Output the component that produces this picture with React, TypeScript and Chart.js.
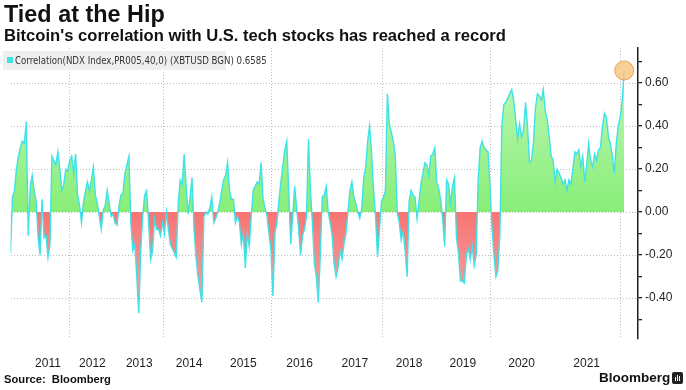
import React, { useEffect, useRef } from 'react';
import { Chart, registerables } from 'chart.js';

Chart.register(...registerables);

// Rolling 40-day correlation, NDX vs XBTUSD (evenly spaced samples)
const correlation: number[] = [
  -0.19, 0.07, 0.10, 0.20, 0.26, 0.30, 0.33, 0.32, 0.42, -0.11,
  0.12, 0.17, 0.10, 0.05, -0.12, -0.20, 0.06, -0.12, -0.11, -0.21,
  -0.15, 0.26, 0.24, 0.22, 0.28, 0.20, 0.10, 0.13, 0.20, 0.19,
  0.24, 0.26, 0.18, 0.27, 0.08, 0.03, -0.05, 0.05, 0.10, 0.14,
  0.10, 0.15, 0.21, 0.08, 0.04, -0.02, -0.08, 0.01, 0.03, 0.10,
  0.04, -0.02, -0.01, -0.05, -0.06, 0.03, 0.08, 0.09, 0.18, 0.22,
  0.26, -0.05, -0.18, -0.15, -0.30, -0.47, -0.18, -0.02, 0.08, 0.10,
  -0.05, -0.22, -0.18, -0.03, -0.08, -0.08, -0.11, -0.05, -0.10, 0.00,
  -0.08, -0.15, -0.17, -0.19, -0.21, 0.04, 0.15, 0.13, 0.27, 0.12,
  -0.01, 0.07, 0.16, -0.08, -0.21, -0.30, -0.36, -0.42, -0.02, 0.00,
  -0.01, 0.02, 0.07, -0.05, -0.03, 0.00, 0.04, 0.10, 0.15, 0.17,
  0.23, 0.10, 0.06, 0.06, -0.05, -0.02, -0.05, -0.15, -0.10, -0.26,
  -0.10, -0.16, -0.02, 0.10, 0.12, 0.14, 0.13, 0.23, 0.06, 0.02,
  -0.02, -0.10, -0.18, -0.39, -0.10, -0.05, 0.05, 0.14, 0.21, 0.29,
  0.33, 0.10, -0.15, -0.02, 0.12, 0.02, -0.08, -0.20, -0.11, -0.08,
  -0.02, 0.34, 0.10, -0.05, -0.24, -0.30, -0.42, -0.20, 0.07, 0.08,
  0.12, 0.00, -0.05, -0.11, -0.24, -0.30, -0.26, -0.18, -0.22, -0.15,
  -0.10, 0.00, 0.10, 0.14, 0.07, 0.04, 0.00, -0.03, 0.02, 0.16,
  0.21, 0.33, 0.40, 0.27, 0.10, -0.02, -0.21, -0.08, 0.05, 0.07,
  0.10, 0.55, 0.41, 0.37, 0.33, 0.26, 0.00, -0.05, -0.13, -0.09,
  -0.18, -0.30, 0.05, 0.10, 0.08, 0.07, -0.03, 0.05, 0.13, 0.18,
  0.23, 0.22, 0.17, 0.26, 0.27, 0.30, 0.14, 0.11, 0.06, -0.03,
  -0.16, 0.15, 0.13, 0.04, 0.12, 0.16, -0.12, -0.19, -0.32, -0.32,
  -0.33, -0.20, -0.17, -0.22, -0.16, -0.25, -0.20, 0.15, 0.30, 0.33,
  0.30, 0.29, 0.28, 0.12, -0.07, -0.20, -0.30, -0.27, -0.11, 0.40,
  0.50, 0.51, 0.53, 0.55, 0.57, 0.52, 0.43, 0.34, 0.41, 0.35,
  0.38, 0.51, 0.40, 0.23, 0.24, 0.32, 0.48, 0.55, 0.54, 0.52,
  0.57, 0.47, 0.43, 0.35, 0.26, 0.24, 0.14, 0.20, 0.18, 0.16,
  0.13, 0.15, 0.10, 0.15, 0.13, 0.20, 0.28, 0.27, 0.29, 0.21,
  0.26, 0.14, 0.22, 0.32, 0.24, 0.21, 0.27, 0.24, 0.29, 0.30,
  0.40, 0.46, 0.44, 0.35, 0.32, 0.26, 0.18, 0.32, 0.40, 0.44,
  0.52, 0.6585,
];

// x axis: years and the sample index at which each year begins
const yearLabels: string[] = ['2011', '2012', '2013', '2014', '2015', '2016', '2017', '2018', '2019', '2020', '2021'];
const yearStartIndex: number[] = [8, 30, 53, 77.5, 103.5, 132.5, 160.5, 188.5, 215.5, 243, 275, 309];
const gridYearIndex: number[] = [30, 77.5, 132.5, 188.5, 243, 309];
const xAxisMax = 318;

// y axis
const yMin = -0.59;
const yMax = 0.763;
const yTickValues: number[] = [-0.5, -0.4, -0.3, -0.2, -0.1, 0, 0.1, 0.2, 0.3, 0.4, 0.5, 0.6, 0.7];
const yGridValues: number[] = [-0.4, -0.2, 0, 0.2, 0.4, 0.6];

const legendText = 'Correlation(NDX Index,PR005,40,0) (XBTUSD BGN) 0.6585';
const titleText = 'Tied at the Hip';
const subtitleText = "Bitcoin's correlation with U.S. tech stocks has reached a record";
const sourceText = 'Source:  Bloomberg';

const isMajor = (v: number) => Math.abs(Math.round(v * 5) - v * 5) < 1e-6;

export default function App() {
  const canvasRef = useRef<HTMLCanvasElement | null>(null);

  useEffect(() => {
    const canvas = canvasRef.current;
    if (!canvas) return;
    const points = correlation.map((v, i) => ({ x: i, y: v }));
    const last = correlation.length - 1;
    const font = { family: "'Liberation Sans', Arial, sans-serif", size: 12 };

    const chart = new Chart(canvas, {
      type: 'line',
      data: {
        datasets: [
          {
            data: points,
            xAxisID: 'x',
            yAxisID: 'y',
            borderColor: '#3fe2e6',
            borderWidth: 1.4,
            tension: 0,
            pointRadius: (ctx: any) => (ctx.dataIndex === last ? 9.5 : 0),
            pointHoverRadius: 0,
            pointBackgroundColor: 'rgba(248, 198, 125, 0.8)',
            pointBorderColor: 'rgba(232, 150, 60, 0.85)',
            pointBorderWidth: 1,
            fill: { target: 'origin', above: '#98f28a', below: '#f77f7f' },
          } as any,
        ],
      },
      options: {
        responsive: false,
        animation: false,
        devicePixelRatio: 1,
        events: [],
        layout: { padding: { left: 2, top: 48, right: 0, bottom: 0 } },
        plugins: { legend: { display: false }, tooltip: { enabled: false } },
        scales: {
          x: {
            type: 'linear',
            position: 'bottom',
            min: 0,
            max: xAxisMax,
            afterBuildTicks: (s: any) => {
              s.ticks = yearLabels.map((_, k) => ({ value: (yearStartIndex[k] + yearStartIndex[k + 1]) / 2 }));
            },
            ticks: {
              autoSkip: false,
              maxRotation: 0,
              padding: 17,
              color: '#1e1e1e',
              font,
              callback: (_v: any, i: number) => yearLabels[i],
            },
            grid: { display: false, drawTicks: false },
            border: { display: false },
            afterFit: (s: any) => {
              s.height = 51;
            },
          },
          xg: {
            type: 'linear',
            position: 'bottom',
            min: 0,
            max: xAxisMax,
            afterBuildTicks: (s: any) => {
              s.ticks = gridYearIndex.map((v) => ({ value: v }));
            },
            ticks: { display: false },
            grid: { color: '#bdbdbd', lineWidth: 1, drawTicks: false },
            border: { display: false, dash: [1, 2] },
            afterFit: (s: any) => {
              s.height = 0;
            },
          },
          y: {
            type: 'linear',
            position: 'left',
            min: yMin,
            max: yMax,
            afterBuildTicks: (s: any) => {
              s.ticks = yGridValues.map((v) => ({ value: v }));
            },
            ticks: { display: false },
            grid: { color: '#bdbdbd', lineWidth: 1, drawTicks: false },
            border: { display: false, dash: [1, 2] },
            afterFit: (s: any) => {
              s.width = 0;
            },
          },
          y2: {
            type: 'linear',
            position: 'right',
            min: yMin,
            max: yMax,
            afterBuildTicks: (s: any) => {
              s.ticks = yTickValues.map((v) => ({ value: v }));
            },
            ticks: {
              padding: 3,
              color: '#1e1e1e',
              font,
              callback: (v: any) => (isMajor(Number(v)) ? Number(v).toFixed(2) : ''),
            },
            grid: { drawOnChartArea: false, tickLength: 4, tickColor: '#1e1e1e', lineWidth: 1.3 },
            border: { display: true, color: '#1e1e1e', width: 1.5 },
            afterFit: (s: any) => {
              s.width = 48;
            },
          },
        },
      } as any,
    });

    // vertical gradients for the positive / negative fills
    const { ctx, chartArea, scales } = chart as any;
    const y0 = scales.y.getPixelForValue(0);
    const gAbove = ctx.createLinearGradient(0, chartArea.top, 0, y0);
    gAbove.addColorStop(0, '#c6f9bd');
    gAbove.addColorStop(1, '#88ee78');
    const gBelow = ctx.createLinearGradient(0, y0, 0, chartArea.bottom);
    gBelow.addColorStop(0, '#f87474');
    gBelow.addColorStop(1, '#f4b4b4');
    (chart.data.datasets[0] as any).fill = { target: 'origin', above: gAbove, below: gBelow };
    chart.update();

    return () => chart.destroy();
  }, []);

  const sans = "'Liberation Sans', Arial, sans-serif";

  return (
    <div
      style={{
        position: 'fixed',
        left: 0,
        top: 0,
        width: 686,
        height: 390,
        background: '#ffffff',
        overflow: 'hidden',
        fontFamily: sans,
      }}
    >
      <canvas ref={canvasRef} width={686} height={390} style={{ position: 'absolute', left: 0, top: 0, width: 686, height: 390 }} />
      <div style={{ position: 'absolute', left: 4, top: 3, fontSize: 23.4, lineHeight: '23px', fontWeight: 700, color: '#111', whiteSpace: 'nowrap' }}>
        {titleText}
      </div>
      <div style={{ position: 'absolute', left: 4, top: 27, fontSize: 16.6, lineHeight: '17px', fontWeight: 700, color: '#111', whiteSpace: 'nowrap' }}>
        {subtitleText}
      </div>
      <div
        style={{
          position: 'absolute',
          left: 3,
          top: 51,
          width: 223,
          height: 19,
          background: 'rgba(238,238,238,0.95)',
        }}
      >
        <div style={{ position: 'absolute', left: 4, top: 6, width: 6, height: 6, background: '#3fe2e6' }} />
        <div
          style={{
            position: 'absolute',
            left: 12,
            top: 0,
            lineHeight: '19px',
            fontSize: 9.6,
            fontFamily: "'Liberation Sans Narrow', 'DejaVu Sans Condensed', sans-serif",
            color: '#333',
            whiteSpace: 'nowrap',
          }}
        >
          {legendText}
        </div>
      </div>
      <div style={{ position: 'absolute', left: 4, top: 373, fontSize: 11.2, lineHeight: '12px', fontWeight: 700, color: '#111', whiteSpace: 'pre' }}>
        {sourceText}
      </div>
      <div style={{ position: 'absolute', left: 599, top: 370, fontSize: 13.5, lineHeight: '15px', fontWeight: 700, color: '#111', whiteSpace: 'nowrap' }}>
        Bloomberg
      </div>
      <div style={{ position: 'absolute', left: 672, top: 372, width: 11, height: 12, background: '#222', borderRadius: 2 }}>
        <div style={{ position: 'absolute', left: 3, top: 5, width: 1, height: 4, background: '#fff' }} />
        <div style={{ position: 'absolute', left: 5, top: 3, width: 1, height: 6, background: '#fff' }} />
        <div style={{ position: 'absolute', left: 7, top: 4, width: 1, height: 5, background: '#fff' }} />
      </div>
    </div>
  );
}
